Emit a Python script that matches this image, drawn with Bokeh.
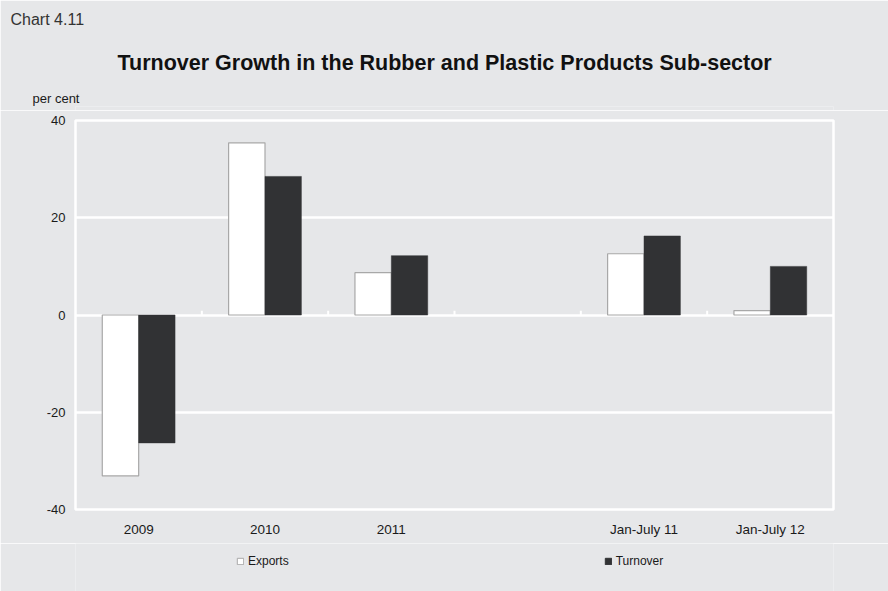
from bokeh.plotting import figure
from bokeh.layouts import column
from bokeh.models import (ColumnDataSource, FixedTicker, Legend, LegendItem, Range1d, Title)
from bokeh.embed import file_html
from bokeh.resources import INLINE

# ---- data ----
categories = ["2009", "2010", "2011", "", "Jan-July 11", "Jan-July 12"]
exports = [-33.1, 35.4, 8.7, float("nan"), 12.6, 0.9]
turnover = [-26.3, 28.5, 12.2, float("nan"), 16.25, 10.0]
y_ticks = [-40, -20, 0, 20, 40]
y_labels = ["-40", "-20", "0", "20", "40"]
series_names = ["Exports", "Turnover"]

BG = "#e6e7e9"
DARK = "#313234"
OUTL = "#a8a8a8"
FONT = "Liberation Sans"
W = 888

n = len(categories)
xs = list(range(n))
bw = 0.288

src = ColumnDataSource(dict(
    x=xs,
    x_exp=[x - bw / 2 for x in xs],
    x_turn=[x + bw / 2 for x in xs],
    exports=exports,
    turnover=turnover,
))


def blank_fig(h, **kw):
    f = figure(width=W, height=h, output_backend="svg", toolbar_location=None,
               x_axis_type=None, y_axis_type=None,
               x_range=Range1d(0, 1), y_range=Range1d(0, 1),
               min_border_left=75, min_border_right=55, **kw)
    f.title.text = ""
    f.background_fill_color = BG
    f.border_fill_color = BG
    f.outline_line_color = None
    f.xgrid.visible = False
    f.ygrid.visible = False
    return f


# ---- header (titles stacked above the header's thin frame) ----
head = blank_fig(110, min_border_top=0, min_border_bottom=0)
head.add_layout(Title(text="per cent", align="left", offset=-43, standoff=2,
                      text_font=FONT, text_font_size="13px", text_font_style="normal",
                      text_color="#1a1a1a"), "above")
head.add_layout(Title(text="Turnover Growth in the Rubber and Plastic Products Sub-sector",
                      align="left", offset=42, standoff=26,
                      text_font=FONT, text_font_size="21.5px", text_font_style="bold",
                      text_color="#111111"), "above")
head.add_layout(Title(text="Chart 4.11", align="left", offset=-65, standoff=16,
                      text_font=FONT, text_font_size="16px", text_font_style="normal",
                      text_color="#333333"), "above")

# ---- main chart ----
p = figure(width=W, height=433, output_backend="svg", toolbar_location=None,
           x_range=(-0.5, n - 0.5), y_range=(-40, 40),
           min_border_left=75, min_border_right=55,
           min_border_top=10, min_border_bottom=34)
p.title.text = ""
p.background_fill_color = BG
p.border_fill_color = BG
p.outline_line_color = "white"
p.outline_line_width = 2.5

p.xgrid.visible = False
p.ygrid.ticker = FixedTicker(ticks=y_ticks)
p.ygrid.grid_line_color = "white"
p.ygrid.grid_line_width = 2.5

p.yaxis.ticker = FixedTicker(ticks=y_ticks)
p.yaxis.major_label_overrides = dict(zip(y_ticks, y_labels))
p.yaxis.axis_line_color = None
p.yaxis.major_tick_line_color = None
p.yaxis.minor_tick_line_color = None
p.yaxis.major_tick_in = 0
p.yaxis.major_tick_out = 0
p.yaxis.major_label_standoff = 10
p.yaxis.major_label_text_font = FONT
p.yaxis.major_label_text_font_size = "13px"
p.yaxis.major_label_text_color = "#1a1a1a"

p.xaxis.ticker = FixedTicker(ticks=xs)
p.xaxis.major_label_overrides = {i: c for i, c in enumerate(categories)}
p.xaxis.axis_line_color = None
p.xaxis.major_tick_line_color = None
p.xaxis.minor_tick_line_color = None
p.xaxis.major_tick_in = 0
p.xaxis.major_tick_out = 0
p.xaxis.major_label_standoff = 12
p.xaxis.major_label_text_font = FONT
p.xaxis.major_label_text_font_size = "13.5px"
p.xaxis.major_label_text_color = "#1a1a1a"

# category boundary ticks on the zero line
bounds = [x + 0.5 for x in xs[:-1]]
p.segment(x0=bounds, x1=bounds, y0=[0] * len(bounds), y1=[0.85] * len(bounds),
          line_color="white", line_width=2)

p.vbar(x="x_exp", top="exports", bottom=0, width=bw, source=src,
       fill_color="white", line_color=OUTL, line_width=1.2)
p.vbar(x="x_turn", top="turnover", bottom=0, width=bw, source=src,
       fill_color=DARK, line_color=DARK, line_width=0.5)

# ---- footer with legend (legend proxies are hidden copies of the series) ----
foot = blank_fig(48, min_border_top=0, min_border_bottom=0)
k_exp = foot.vbar(x="x", top="exports", width=0.1, source=src, visible=False,
                  fill_color="white", line_color=OUTL, line_width=1)
k_turn = foot.vbar(x="x", top="turnover", width=0.1, source=src, visible=False,
                   fill_color=DARK, line_color=DARK, line_width=1)
legend = Legend(items=[LegendItem(label=series_names[0], renderers=[k_exp]),
                       LegendItem(label=series_names[1], renderers=[k_turn])],
                orientation="horizontal", location=(161, 23),
                glyph_width=8, glyph_height=8, label_height=12,
                label_standoff=4, spacing=315, padding=0, margin=0,
                border_line_color=None, background_fill_alpha=0,
                label_text_font=FONT, label_text_font_size="12px",
                label_text_color="#1a1a1a")
foot.add_layout(legend, "center")

open("out.html", "w").write(file_html(column(head, p, foot, spacing=0), INLINE))
